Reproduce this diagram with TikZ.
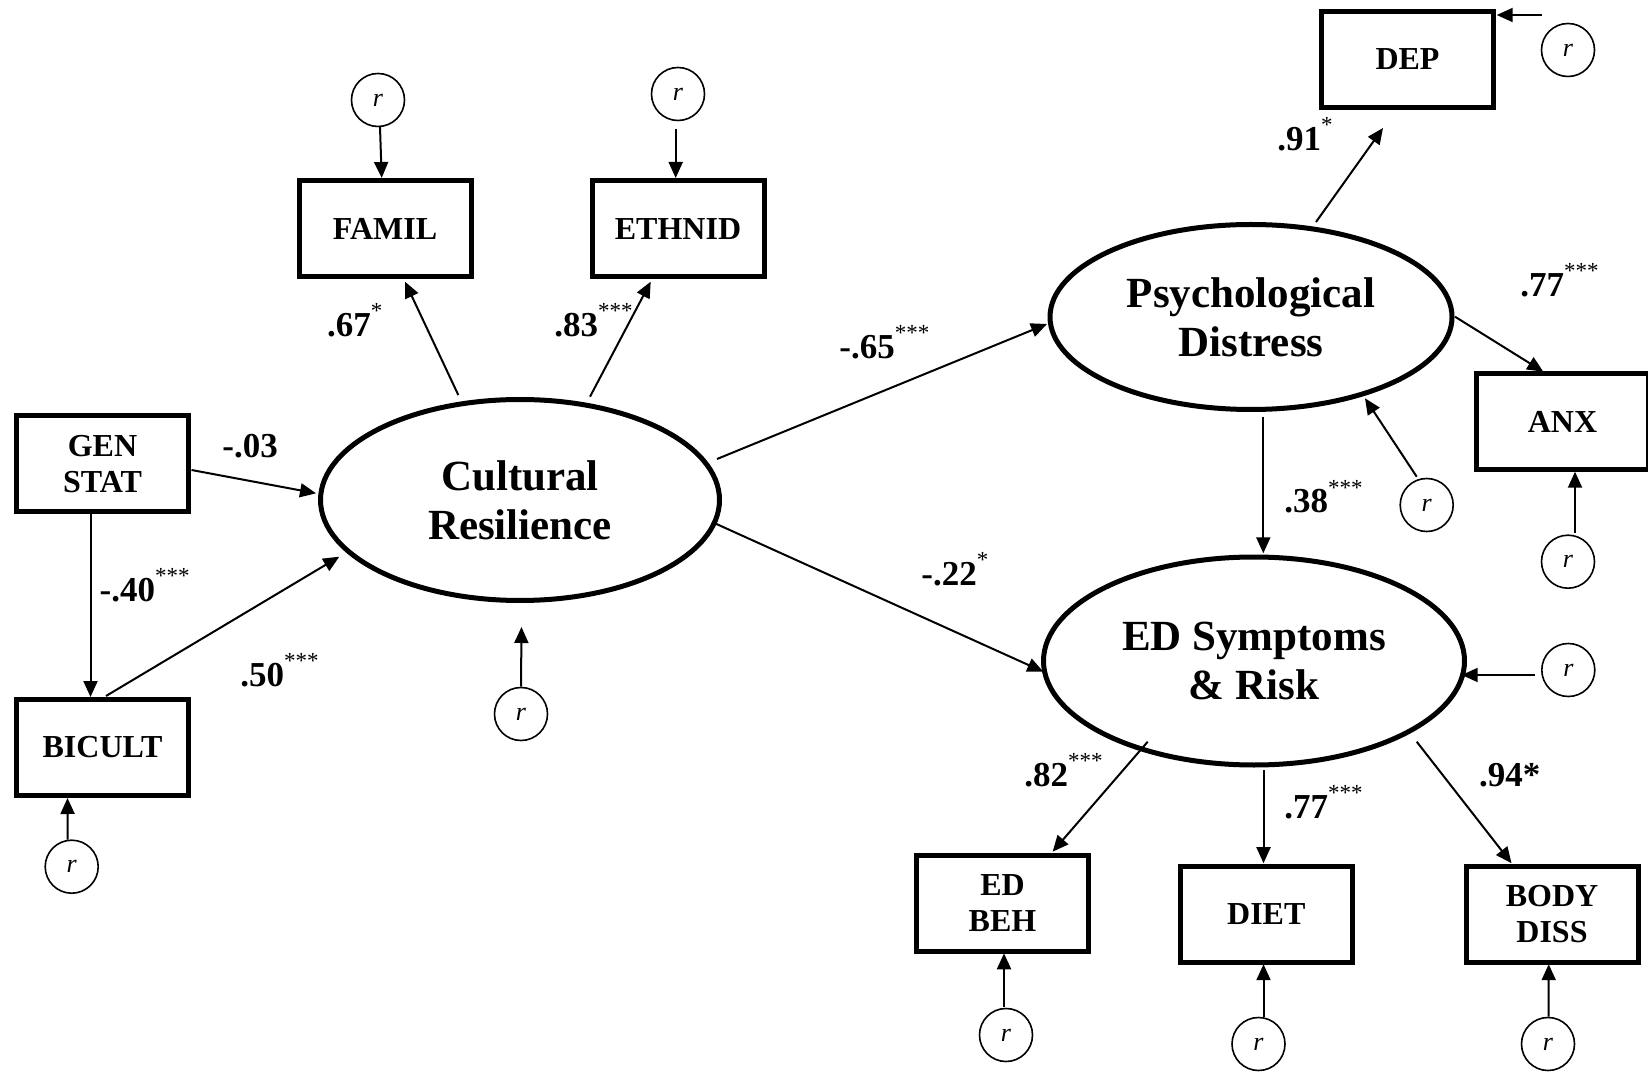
\documentclass[tikz,border=0pt]{standalone}
\usepackage{fontspec}
\setmainfont{Liberation Serif}
\usetikzlibrary{arrows.meta,shapes.geometric,calc}

% significance stars set as a small raised superscript
\newcommand{\sigstar}[1]{\raisebox{9pt}{\fontsize{11.5}{11.5}\selectfont\mdseries #1}}

\begin{document}
\begin{tikzpicture}[x=0.5pt,y=-0.5pt,
  obs/.style={rectangle, draw, line width=2.5pt, minimum width=86pt, minimum height=48pt,
    inner sep=0pt, align=center, font=\fontsize{16}{18}\selectfont\bfseries},
  lat/.style={ellipse, draw, line width=2.5pt, inner sep=0pt, align=center,
    font=\fontsize{21.5}{24.5}\selectfont\bfseries},
  res/.style={circle, draw, line width=0.8pt, minimum size=26.5pt, inner sep=0pt,
    font=\fontsize{13}{13}\selectfont\itshape},
  path/.style={-{Triangle[length=8pt,width=7pt]}, line width=1pt},
  coef/.style={anchor=base west, inner sep=0pt, font=\fontsize{17.5}{17.5}\selectfont\bfseries}]

\useasboundingbox (0,0) rectangle (1648,1074);

% latent variables
\node[lat, minimum width=199.5pt, minimum height=100.5pt] (cr) at (520,500) {Cultural\\Resilience};
\node[lat, minimum width=201pt, minimum height=92.5pt] (pd) at (1251,317) {Psychological\\Distress};
\node[lat, minimum width=210.5pt, minimum height=104pt] (ed) at (1254,661) {ED Symptoms\\\& Risk};

% observed indicators
\node[obs] (gen) at (102.5,464) {GEN\\STAT};
\node[obs] (bic) at (102.5,747) {BICULT};
\node[obs] (famil) at (385,229) {FAMIL};
\node[obs] (ethnid) at (678,229) {ETHNID};
\node[obs] (dep) at (1407.5,59.5) {DEP};
\node[obs] (anx) at (1562.5,421.7) {ANX};
\node[obs] (edbeh) at (1002.5,903.3) {ED\\BEH};
\node[obs] (diet) at (1266.3,914.2) {DIET};
\node[obs] (body) at (1552,914.2) {BODY\\DISS};

% residuals
\node[res] (rbic) at (71.7,866.7) {r};
\node[res] (rfam) at (378,100) {r};
\node[res] (reth) at (678,94) {r};
\node[res] (rcr) at (521,714) {r};
\node[res] (rdep) at (1568,50) {r};
\node[res] (rpd) at (1426.7,505) {r};
\node[res] (ranx) at (1568,561.7) {r};
\node[res] (red) at (1568.3,670) {r};
\node[res] (redbeh) at (1006,1035) {r};
\node[res] (rdiet) at (1258.5,1044) {r};
\node[res] (rbody) at (1548,1044) {r};

% structural paths
\draw[path] ($(gen)+(89,6)$) -- ($(cr)+(-204,-6.7)$);
\draw[path] ($(gen)+(-12,50)$) -- ($(bic)+(-12,-50)$);
\draw[path] ($(bic)+(3.5,-51)$) -- ($(cr)+(-180.7,56.7)$);
\draw[path] ($(cr)+(197,-41)$) -- ($(pd)+(-204,7)$);
\draw[path] ($(cr)+(192,22)$) -- ($(ed)+(-210.7,10.7)$);
\draw[path] ($(pd)+(12.3,99.7)$) -- ($(ed)+(9.3,-107.7)$);

% measurement paths
\draw[path] ($(cr)+(-61.7,-105)$) -- ($(famil)+(20,52.7)$);
\draw[path] ($(cr)+(70,-103.3)$) -- ($(ethnid)+(-27.3,52.7)$);
\draw[path] ($(pd)+(65,-95)$) -- ($(dep)+(-24.5,68.5)$);
\draw[path] ($(pd)+(204,-0.3)$) -- ($(anx)+(-19.2,-50)$);
\draw[path] ($(ed)+(-106.3,80.7)$) -- ($(edbeh)+(50.1,-51.6)$);
\draw[path] ($(ed)+(9.5,109)$) -- ($(diet)+(-2.8,-51)$);
\draw[path] ($(ed)+(162.7,80.7)$) -- ($(body)+(-40.5,-51)$);

% residual paths
\coordinate (crres) at ($(cr)+(1.5,127)$);
\draw[path] ($(rbic)+(-4,-27)$) -- ($(bic)+(-35,51)$);
\draw[path] ($(rfam)+(2,27)$) -- ($(famil)+(-3.3,-51)$);
\draw[path] ($(reth)+(-2.3,34.7)$) -- ($(ethnid)+(-2.3,-51)$);
\draw[path] ($(rcr)+(0,-27.5)$) -- (crres);
\draw[path] ($(rdep)+(-26.3,-35)$) -- ($(dep)+(89.2,-44.5)$);
\draw[path] ($(rpd)+(-10,-28.3)$) -- ($(pd)+(114,81.3)$);
\draw[path] ($(ranx)+(7,-28.7)$) -- ($(anx)+(12.5,50)$);
\draw[path] ($(red)+(-33.3,5)$) -- ($(ed)+(207.7,14)$);
\draw[path] ($(redbeh)+(-2,-28)$) -- ($(edbeh)+(1.5,50)$);
\draw[path] ($(rdiet)+(5,-27)$) -- ($(diet)+(-2.8,50)$);
\draw[path] ($(rbody)+(0.7,-27.5)$) -- ($(body)+(-3.3,50)$);

% path coefficients
\node[coef] (c1) at (222,458) {-.03};
\node[coef] (c2) at (99.3,601.7) {-.40\sigstar{***}};
\node[coef] (c3) at (240,686.7) {.50\sigstar{***}};
\node[coef] (c4) at (326.7,336.7) {.67\sigstar{*}};
\node[coef] (c5) at (554,336.7) {.83\sigstar{***}};
\node[coef] (c6) at (839,359) {-.65\sigstar{***}};
\node[coef] (c7) at (921,585) {-.22\sigstar{*}};
\node[coef] (c8) at (1277,151) {.91\sigstar{*}};
\node[coef] (c9) at (1520,296.7) {.77\sigstar{***}};
\node[coef] (c10) at (1284,513) {.38\sigstar{***}};
\node[coef] (c11) at (1024,786.7) {.82\sigstar{***}};
\node[coef] (c12) at (1284,818.3) {.77\sigstar{***}};
\node[coef] (c13) at (1478.6,786.7) {.94*};

\end{tikzpicture}
\end{document}
